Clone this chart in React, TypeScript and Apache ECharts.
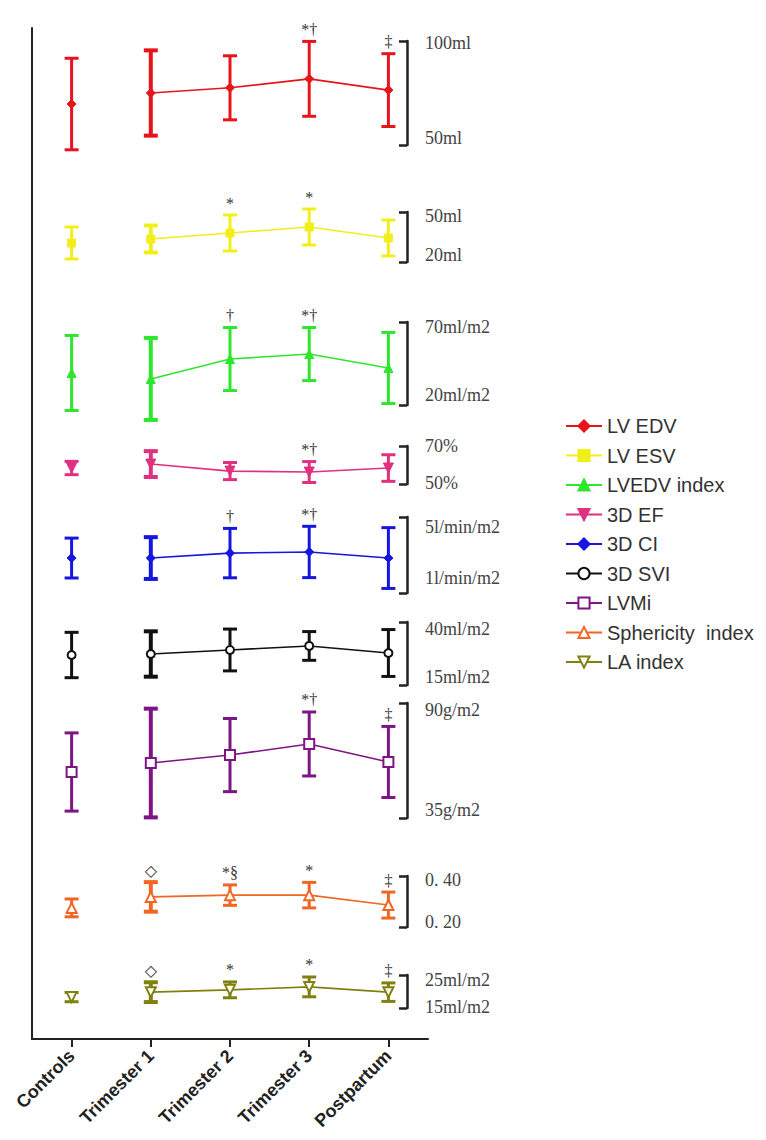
import React, { useEffect, useRef } from "react";
import * as echarts from "echarts";

// ---------- data ----------
const categories = ["Controls", "Trimester 1", "Trimester 2", "Trimester 3", "Postpartum"];

const lvEdvMean = [69.7, 75.0, 77.5, 81.8, 76.4];
const lvEdvSd = [22, 20.5, 15.4, 18, 17.5];
const lvEdvRange = [50, 100];
const lvEdvTicks = ["50ml", "100ml"];
const lvEdvNotes = ["", "", "", "*†", "‡"];

const lvEsvMean = [31.4, 33.8, 37.4, 41.0, 34.4];
const lvEsvSd = [9.6, 8.1, 10.8, 10.8, 10.8];
const lvEsvRange = [20, 50];
const lvEsvTicks = ["20ml", "50ml"];
const lvEsvNotes = ["", "", "*", "*", ""];

const lvedvIdxMean = [39.3, 35.7, 47.7, 50.7, 42.3];
const lvedvIdxSd = [22.6, 24.7, 19, 16, 21.4];
const lvedvIdxRange = [20, 70];
const lvedvIdxTicks = ["20ml/m2", "70ml/m2"];
const lvedvIdxNotes = ["", "", "†", "*†", ""];

const efMean = [58.4, 60.5, 56.8, 56.3, 58.4];
const efSd = [3.5, 6.8, 4.5, 5.5, 7];
const efRange = [50, 70];
const efTicks = ["50%", "70%"];
const efNotes = ["", "", "", "*†", ""];

const ciMean = [2.84, 2.84, 3.1, 3.16, 2.84];
const ciSd = [1.05, 1.1, 1.3, 1.35, 1.6];
const ciRange = [1, 5];
const ciTicks = ["1l/min/m2", "5l/min/m2"];
const ciNotes = ["", "", "†", "*†", ""];

const sviMean = [26.9, 27.3, 28.9, 30.5, 27.7];
const sviSd = [9, 9, 8.3, 5.7, 9.3];
const sviRange = [15, 40];
const sviTicks = ["15ml/m2", "40ml/m2"];
const sviNotes = ["", "", "", "", ""];

const lvmiMean = [57, 61.3, 65.1, 70.4, 61.8];
const lvmiSd = [18.7, 26, 17.5, 15.3, 17];
const lvmiRange = [35, 90];
const lvmiTicks = ["35g/m2", "90g/m2"];
const lvmiNotes = ["", "", "", "*†", "‡"];

const sphMean = [0.275, 0.318, 0.325, 0.325, 0.286];
const sphSd = [0.035, 0.058, 0.04, 0.05, 0.051];
const sphRange = [0.2, 0.4];
const sphTicks = ["0. 20", "0. 40"];
const sphNotes = ["", "◇", "*§", "*", "‡"];

const laMean = [18.3, 19.8, 20.5, 21.4, 19.8];
const laSd = [1.4, 3, 2.4, 3, 2.8];
const laRange = [15, 25];
const laTicks = ["15ml/m2", "25ml/m2"];
const laNotes = ["", "◇", "*", "*", "‡"];

// ---------- layout / style ----------
// shift: [downward shift of top label, upward shift of bottom label] in px
const panels = [
  { name: "LV EDV", mean: lvEdvMean, sd: lvEdvSd, range: lvEdvRange, ticks: lvEdvTicks, notes: lvEdvNotes, color: "#e8141c", symbol: "diamond", size: 9, rotate: 0, top: 41, bottom: 145, shift: [2, 7] },
  { name: "LV ESV", mean: lvEsvMean, sd: lvEsvSd, range: lvEsvRange, ticks: lvEsvTicks, notes: lvEsvNotes, color: "#f2ee1a", symbol: "rect", size: 8, rotate: 0, top: 212, bottom: 262, shift: [4, 7] },
  { name: "LVEDV index", mean: lvedvIdxMean, sd: lvedvIdxSd, range: lvedvIdxRange, ticks: lvedvIdxTicks, notes: lvedvIdxNotes, color: "#2ee62e", symbol: "triangle", size: 9, rotate: 0, top: 322, bottom: 405, shift: [5, 10] },
  { name: "3D EF", mean: efMean, sd: efSd, range: efRange, ticks: efTicks, notes: efNotes, color: "#e0307f", symbol: "triangle", size: 10, rotate: 180, top: 446, bottom: 484, shift: [0, 1] },
  { name: "3D CI", mean: ciMean, sd: ciSd, range: ciRange, ticks: ciTicks, notes: ciNotes, color: "#1616e0", symbol: "diamond", size: 9, rotate: 0, top: 517, bottom: 593, shift: [10, 15] },
  { name: "3D SVI", mean: sviMean, sd: sviSd, range: sviRange, ticks: sviTicks, notes: sviNotes, color: "#111111", symbol: "emptyCircle", size: 8, rotate: 0, top: 622, bottom: 685, shift: [7, 8] },
  { name: "LVMi", mean: lvmiMean, sd: lvmiSd, range: lvmiRange, ticks: lvmiTicks, notes: lvmiNotes, color: "#7d1585", symbol: "emptyRect", size: 10, rotate: 0, top: 703, bottom: 818, shift: [7, 8] },
  { name: "Sphericity  index", mean: sphMean, sd: sphSd, range: sphRange, ticks: sphTicks, notes: sphNotes, color: "#f26522", symbol: "emptyTriangle", size: 10, rotate: 0, top: 876, bottom: 927, shift: [4, 5] },
  { name: "LA index", mean: laMean, sd: laSd, range: laRange, ticks: laTicks, notes: laNotes, color: "#80800f", symbol: "emptyTriangle", size: 10, rotate: 180, top: 975, bottom: 1008, shift: [5, 1] },
];

const barWeights = [3, 4, 3, 3, 3];
const GRID_LEFT = 32;
const GRID_WIDTH = 396;
const FRAME_TOP = 28;
const FRAME_BOTTOM = 1039;
const serif = "'Liberation Serif', 'DejaVu Serif', serif";
const sans = "'Liberation Sans', Arial, sans-serif";

function buildOption() {
  const grid: any[] = [
    {
      left: GRID_LEFT,
      width: GRID_WIDTH,
      top: FRAME_TOP,
      height: FRAME_BOTTOM - FRAME_TOP,
      containLabel: false,
      outerBoundsMode: "none",
    },
  ];
  const xAxis: any[] = [
    {
      type: "category",
      gridIndex: 0,
      data: categories,
      axisLine: { show: true, lineStyle: { color: "#222", width: 2 } },
      axisTick: { show: true, alignWithLabel: true, length: 8, lineStyle: { color: "#222", width: 2 } },
      axisLabel: {
        rotate: 45,
        margin: 14,
        fontFamily: sans,
        fontWeight: "bold",
        fontSize: 18,
        color: "#222",
        interval: 0,
      },
      splitLine: { show: false },
    },
  ];
  const yAxis: any[] = [
    {
      type: "value",
      gridIndex: 0,
      min: 0,
      max: 1,
      axisLine: { show: true, lineStyle: { color: "#222", width: 2 } },
      axisTick: { show: false },
      axisLabel: { show: false },
      splitLine: { show: false },
    },
  ];
  const series: any[] = [];

  panels.forEach((p, k) => {
    const gi = k + 1;
    grid.push({
      left: GRID_LEFT,
      width: GRID_WIDTH,
      top: p.top,
      height: p.bottom - p.top,
      containLabel: false,
      outerBoundsMode: "none",
    });
    xAxis.push({ type: "category", gridIndex: gi, data: categories, show: false });
    yAxis.push({
      type: "value",
      gridIndex: gi,
      min: p.range[0],
      max: p.range[1],
      position: "right",
      offset: -21,
      axisLine: { show: true, lineStyle: { color: "#222", width: 2.5 } },
      axisTick: {
        show: true,
        inside: true,
        length: 8,
        customValues: p.range,
        lineStyle: { color: "#222", width: 2.5 },
      },
      axisLabel: {
        show: true,
        customValues: p.range,
        margin: 18,
        fontFamily: serif,
        fontSize: 18,
        color: "#444",
        formatter: (v: number) =>
          Math.abs(v - p.range[0]) < 1e-9 ? "{lo|" + p.ticks[0] + "}" : "{hi|" + p.ticks[1] + "}",
        rich: {
          hi: { fontFamily: serif, fontSize: 18, color: "#444", padding: [p.shift[0] * 2, 0, 0, 0] },
          lo: { fontFamily: serif, fontSize: 18, color: "#444", padding: [0, 0, p.shift[1] * 2, 0] },
        },
      },
      splitLine: { show: false },
    });

    // error bars + significance marks
    series.push({
      type: "custom",
      name: p.name + " SD",
      xAxisIndex: gi,
      yAxisIndex: gi,
      clip: false,
      silent: true,
      z: 2,
      encode: { x: 0, y: [1, 2] },
      data: p.mean.map((m, i) => [i, m - p.sd[i], m + p.sd[i]]),
      renderItem: (params: any, api: any) => {
        const i = params.dataIndex;
        const x = api.value(0);
        const lo = api.coord([x, api.value(1)]);
        const hi = api.coord([x, api.value(2)]);
        const w = barWeights[i];
        const hw = 7;
        const st = { stroke: p.color, lineWidth: w };
        const children: any[] = [
          { type: "line", shape: { x1: lo[0], y1: lo[1], x2: hi[0], y2: hi[1] }, style: st },
          { type: "line", shape: { x1: hi[0] - hw, y1: hi[1], x2: hi[0] + hw, y2: hi[1] }, style: st },
          { type: "line", shape: { x1: lo[0] - hw, y1: lo[1], x2: lo[0] + hw, y2: lo[1] }, style: st },
        ];
        const note = p.notes[i];
        if (note) {
          children.push({
            type: "text",
            x: hi[0],
            y: hi[1] - 4,
            style: {
              text: note,
              fontFamily: serif,
              fontSize: 16,
              fill: "#333",
              align: "center",
              verticalAlign: "bottom",
            },
          });
        }
        return { type: "group", children };
      },
    });

    const lineStyleCommon = {
      symbol: p.symbol,
      symbolSize: p.size,
      symbolRotate: p.rotate,
      itemStyle: { color: p.color, borderColor: p.color, borderWidth: p.symbol.startsWith("empty") ? 2.5 : 1 },
    };

    series.push({
      type: "line",
      name: p.name,
      xAxisIndex: gi,
      yAxisIndex: gi,
      z: 3,
      showSymbol: true,
      connectNulls: false,
      lineStyle: { color: p.color, width: 1.6 },
      data: p.mean.map((m, i) => (i === 0 ? "-" : m)),
      ...lineStyleCommon,
    });
    series.push({
      type: "line",
      name: p.name,
      xAxisIndex: gi,
      yAxisIndex: gi,
      z: 3,
      showSymbol: true,
      lineStyle: { color: p.color, width: 1.6 },
      data: p.mean.map((m, i) => (i === 0 ? m : "-")),
      ...lineStyleCommon,
    });
  });

  return {
    animation: false,
    backgroundColor: "#ffffff",
    grid,
    xAxis,
    yAxis,
    legend: {
      orient: "vertical",
      left: 560,
      top: 411,
      itemWidth: 36,
      itemHeight: 14,
      itemGap: 9.5,
      selectedMode: false,
      textStyle: { fontFamily: sans, fontSize: 20, color: "#333" },
      data: panels.map((p) => p.name),
    },
    series,
  };
}

export default function App() {
  const ref = useRef<HTMLDivElement>(null);
  useEffect(() => {
    if (!ref.current) return;
    const chart = echarts.init(ref.current, undefined, { renderer: "svg" });
    chart.setOption(buildOption() as any);
    return () => chart.dispose();
  }, []);
  return (
    <div
      ref={ref}
      style={{ position: "absolute", left: 0, top: 0, width: 766, height: 1140, background: "#fff" }}
    />
  );
}
